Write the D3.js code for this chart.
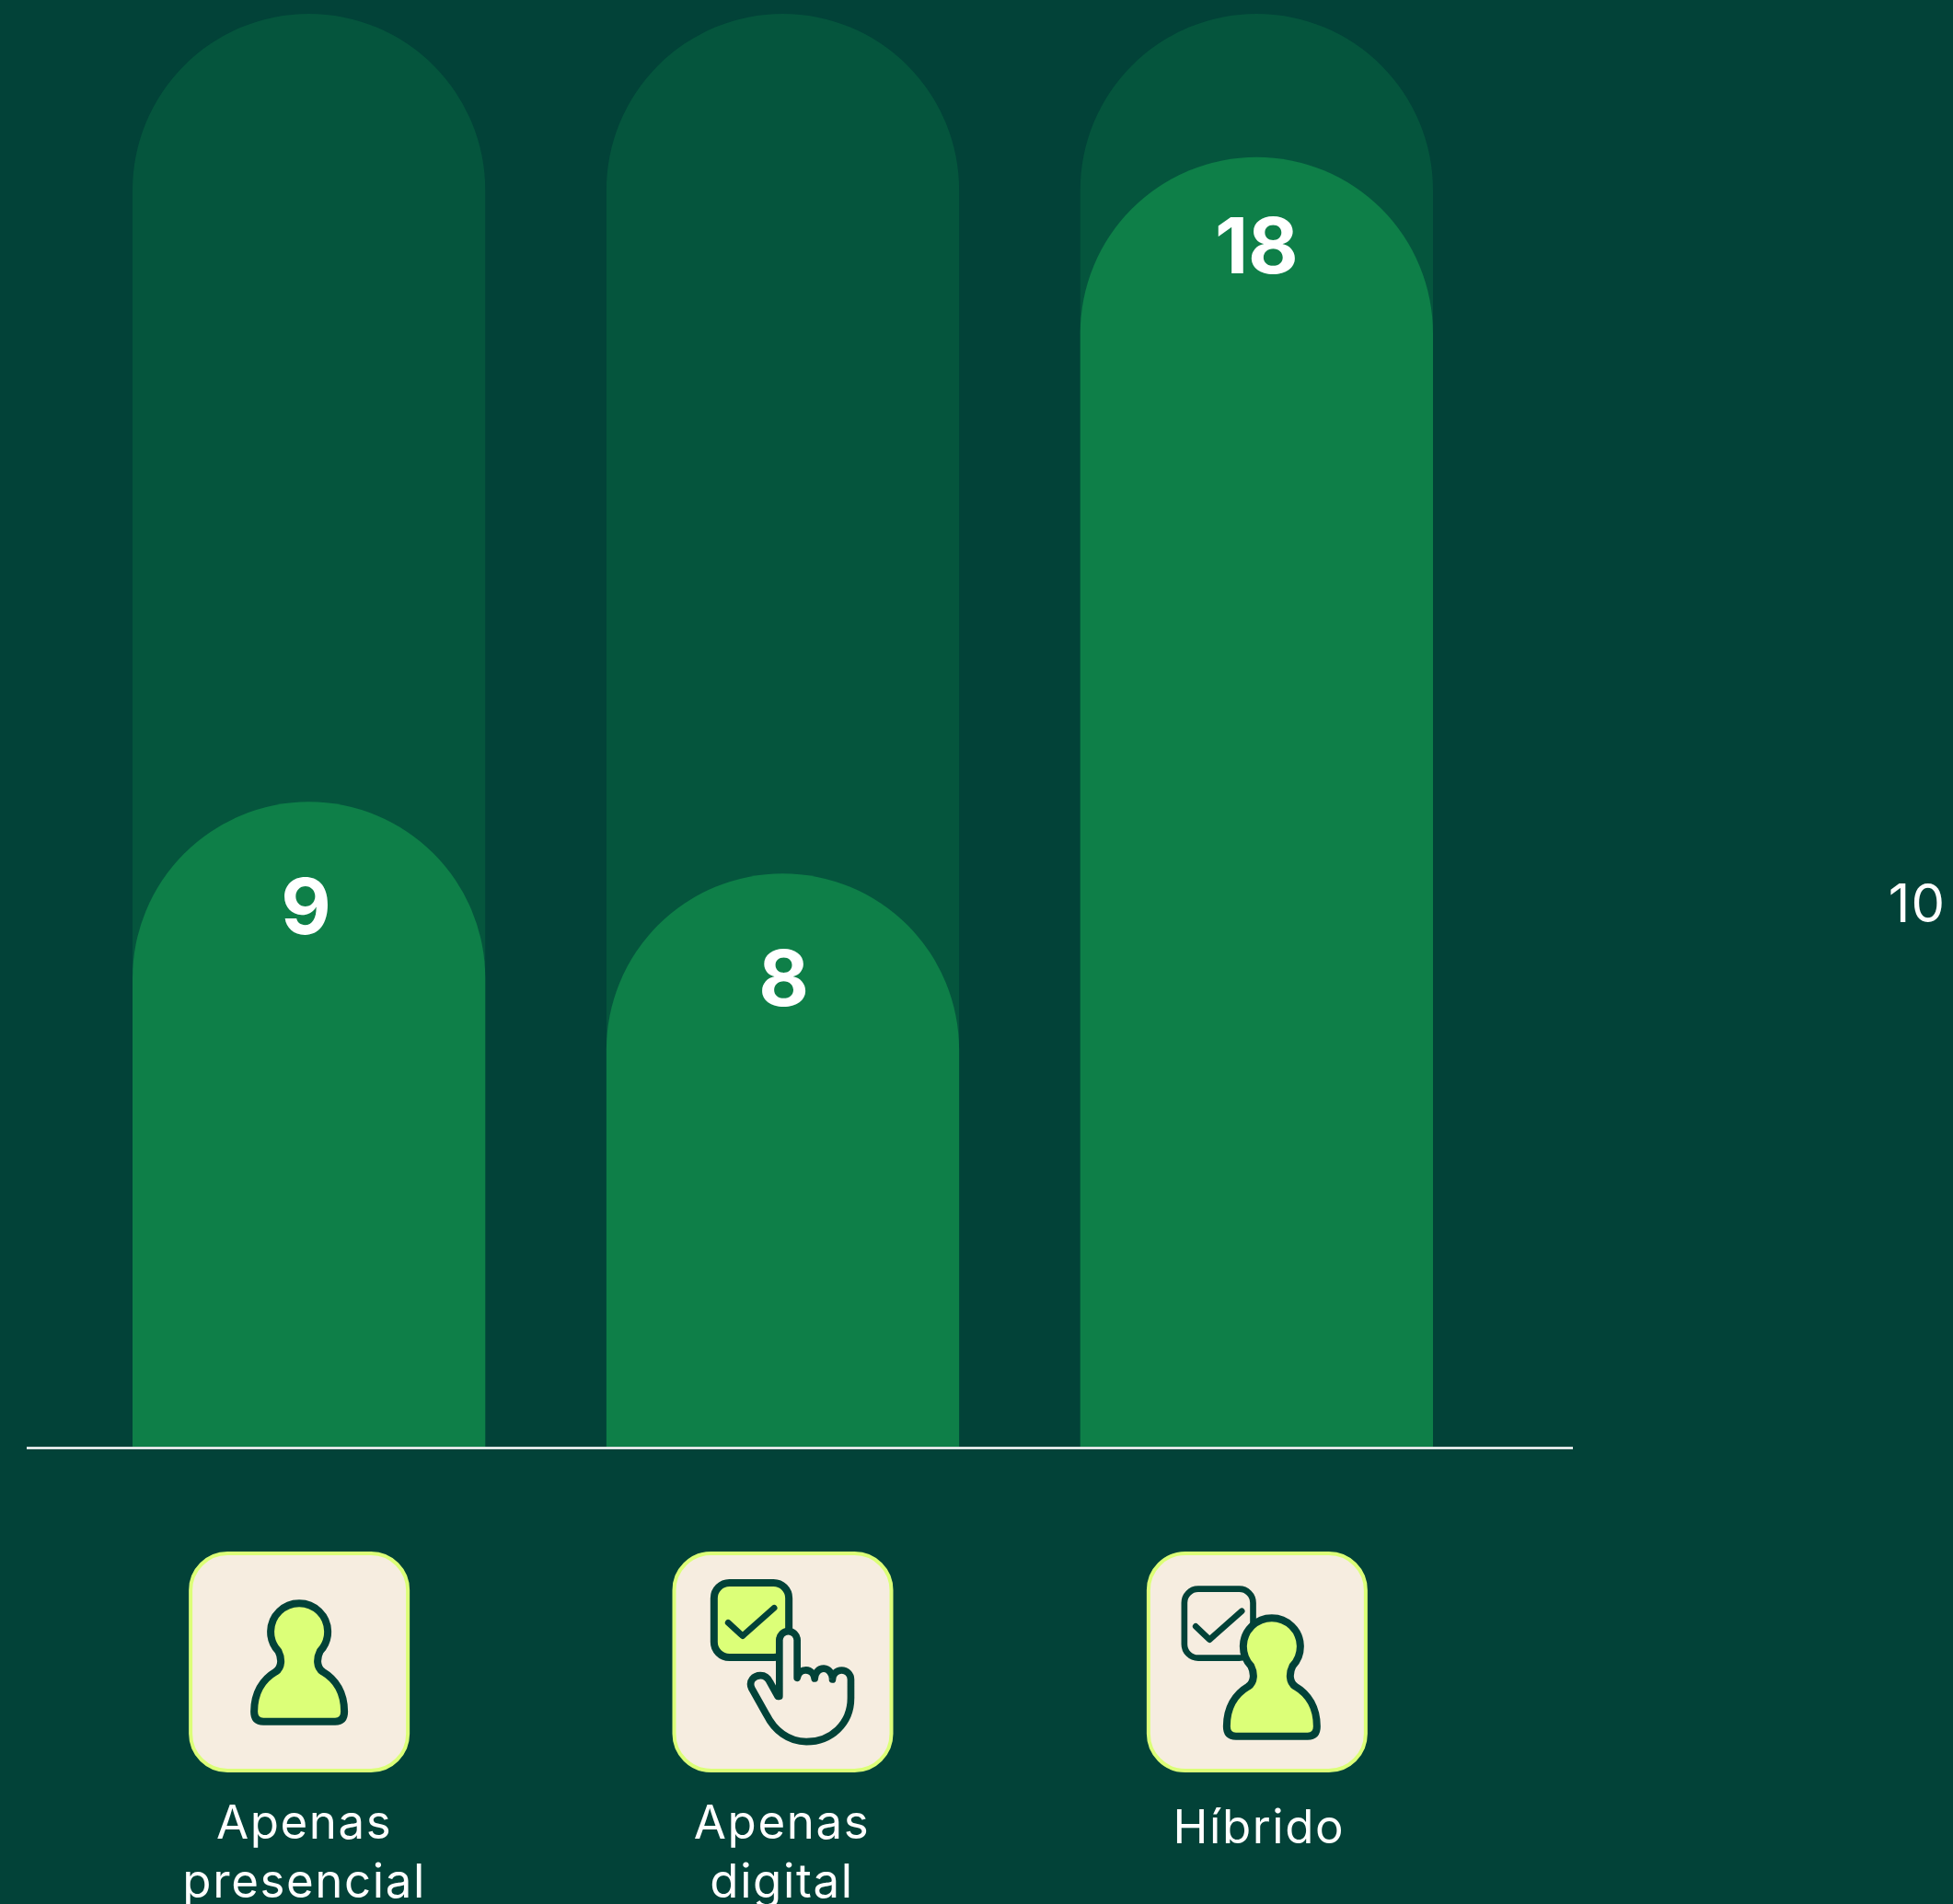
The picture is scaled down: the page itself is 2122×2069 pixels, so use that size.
<!DOCTYPE html>
<html lang="pt">
<head>
    <meta charset="UTF-8">
    <title>Apenas presencial, apenas digital, híbrido</title>
    <script src="https://d3js.org/d3.v7.min.js"></script>
    <style>
        html, body { margin: 0; padding: 0; background: #024238; overflow: hidden; }
        svg { display: block; }
        text { font-family: Inter, "Noto Sans", sans-serif; fill: #fff; }
        .value { font-size: 84px; font-weight: 700; text-anchor: middle; }
        .cat { font-size: 51px; font-weight: 400; text-anchor: middle; letter-spacing: 1.6px; }
        .side { font-size: 58px; font-weight: 400; text-anchor: end; letter-spacing: 1px; }
    </style>
</head>
<body>
    <svg width="2122" height="2069"></svg>
    <script>
        const categories = ["Apenas presencial", "Apenas digital", "Híbrido"];
        const values = [9, 8, 18];
        const trackMax = 20;
        const sideLabel = "10";

        const width = 2122, height = 2069;
        const baseline = 1572;
        const iconSize = 240;
        // small offsets from the bar centre
        const iconShift = [-10.5, 0, 0.5];
        const labelShift = [-5, -1, 2.5];
        const valueShift = [-3, 1, 0];

        const colors = { bg: "#024238", track: "#05553D", bar: "#0E7F48", lime: "#DCFF78", cream: "#F6EDE0" };

        const svg = d3.select("svg");
        svg.append("rect").attr("width", width).attr("height", height).attr("fill", colors.bg);

        const x = d3.scaleBand().domain(categories).range([144, 1557]).paddingInner(0.2556).paddingOuter(0);
        const y = d3.scaleLinear().domain([0, trackMax]).range([baseline, 15]);

        function capsule(cat, v) {
            const l = x(cat), w = x.bandwidth(), r = w / 2, t = y(v);
            return `M${l},${baseline}V${t + r}A${r},${r} 0 0 1 ${l + w},${t + r}V${baseline}Z`;
        }

        svg.selectAll(".track").data(categories).enter().append("path")
            .attr("class", "track")
            .attr("d", d => capsule(d, trackMax))
            .attr("fill", colors.track);

        svg.selectAll(".bar").data(categories).enter().append("path")
            .attr("class", "bar")
            .attr("d", (d, i) => capsule(d, values[i]))
            .attr("fill", colors.bar);

        svg.selectAll(".value").data(categories).enter().append("text")
            .attr("class", "value")
            .attr("x", (d, i) => x(d) + x.bandwidth() / 2 + valueShift[i])
            .attr("y", (d, i) => y(values[i]) + (values[i] >= 10 ? 126 : 144))
            .text((d, i) => values[i]);

        svg.append("line")
            .attr("x1", 29).attr("x2", 1709)
            .attr("y1", baseline + 1.5).attr("y2", baseline + 1.5)
            .attr("stroke", "#fff").attr("stroke-width", 2.5);

        svg.append("text").attr("class", "side").attr("x", 2114).attr("y", 1002).text(sideLabel);

        // icons, drawn at 3x inside a 240px card
        const dark = colors.bg;
        const personPath = "M288,600C288,540 315,495 358,470C380,455 378,425 367,403A93,93 0 1 1 503,403C492,425 490,455 512,470C555,495 582,540 582,600Q582,632 552,632L318,632Q288,632 288,600Z";
        const handPath = "M412,520L412,337A29,29 0 0 1 470,337L470,460A29,32 0 0 1 527,462A29,34 0 0 1 585,465A30,30 0 0 1 645,465L645,525C645,610 580,668 500,668C440,668 395,630 370,580L322,495C310,470 330,452 350,452C365,452 375,460 382,475L407,520Z";

        function drawCheck(g, pts, w) {
            g.append("path")
                .attr("d", d3.line()(pts))
                .attr("fill", "none").attr("stroke", dark).attr("stroke-width", w)
                .attr("stroke-linecap", "round").attr("stroke-linejoin", "round");
        }

        const cards = svg.selectAll(".card").data(categories).enter().append("g")
            .attr("class", "card")
            .attr("transform", (d, i) => `translate(${x(d) + x.bandwidth() / 2 + iconShift[i] - iconSize / 2},1686)`);

        cards.append("rect")
            .attr("x", 2).attr("y", 2)
            .attr("width", iconSize - 4).attr("height", iconSize - 4)
            .attr("rx", 40)
            .attr("fill", colors.cream).attr("stroke", colors.lime).attr("stroke-width", 4);

        // person only
        const g1 = d3.select(cards.nodes()[0]).append("g").attr("transform", "translate(-25,-26) scale(0.3333)");
        g1.append("path").attr("d", personPath).attr("fill", colors.lime).attr("stroke", dark).attr("stroke-width", 24).attr("stroke-linejoin", "round");

        // box and pointing hand
        const g2 = d3.select(cards.nodes()[1]).append("g").attr("transform", "translate(-21,-16) scale(0.3333)");
        g2.append("rect").attr("x", 199).attr("y", 150).attr("width", 244).attr("height", 243).attr("rx", 50)
            .attr("fill", colors.lime).attr("stroke", dark).attr("stroke-width", 24);
        drawCheck(g2, [[245, 280], [292, 323], [395, 232]], 20);
        g2.append("path").attr("d", handPath).attr("fill", colors.cream).attr("stroke", dark).attr("stroke-width", 23).attr("stroke-linejoin", "round");

        // box and person
        const g3 = d3.select(cards.nodes()[2]).append("g").attr("transform", "translate(-15,-16) scale(0.3333)");
        g3.append("rect").attr("x", 168).attr("y", 170).attr("width", 224).attr("height", 225).attr("rx", 45)
            .attr("fill", "none").attr("stroke", dark).attr("stroke-width", 20);
        drawCheck(g3, [[205, 292], [250, 335], [355, 242]], 20);
        g3.append("path").attr("d", personPath).attr("transform", "translate(18,18)")
            .attr("fill", colors.lime).attr("stroke", dark).attr("stroke-width", 24).attr("stroke-linejoin", "round");

        // category labels, one word per line
        svg.selectAll(".cat").data(categories).enter().append("text")
            .attr("class", "cat")
            .attr("transform", (d, i) => `translate(${x(d) + x.bandwidth() / 2 + labelShift[i]},${d.includes(" ") ? 1998 : 2003})`)
            .each(function(d) {
                const t = d3.select(this);
                d.split(" ").forEach((word, k) => {
                    t.append("tspan").attr("x", 0).attr("dy", k ? 64 : 0).text(word);
                });
            });
    </script>
</body>
</html>
